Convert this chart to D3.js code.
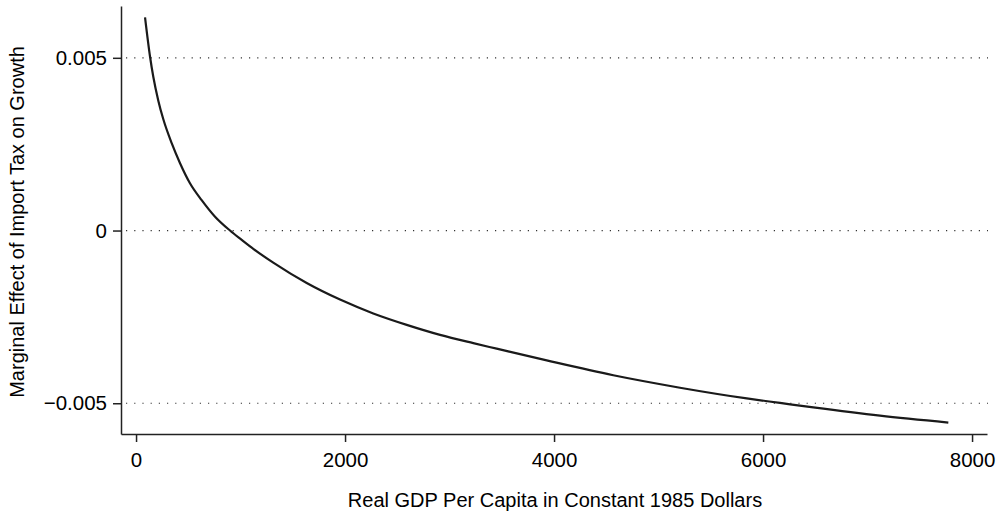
<!DOCTYPE html>
<html>
<head>
  <meta charset="utf-8">
  <script src="https://d3js.org/d3.v7.min.js"></script>
  <style>
    body { margin: 0; background: #fff; }
    text { font-family: "Liberation Sans", Arial, sans-serif; fill: #000; }
  </style>
</head>
<body>
<script>
// values
var gdp    = [86, 134, 165, 213, 261, 341, 421, 516, 628, 756, 899, 1011, 1122, 1313, 1633, 1952,
              2270, 2590, 2909, 3227, 3451, 3930, 4567, 5205, 5844, 6162, 6481, 7119, 7773];
var effect = [0.00617, 0.00503, 0.00445, 0.00376, 0.00322, 0.00253, 0.00195, 0.00137, 0.00088, 0.00040,
              0, -0.00027, -0.00053, -0.00093, -0.00152, -0.00200, -0.00240, -0.00273, -0.00302, -0.00326,
              -0.00342, -0.00376, -0.00419, -0.00455, -0.00486, -0.00499, -0.00512, -0.00536, -0.00556];
var xTicks = [0, 2000, 4000, 6000, 8000];
var yTicks = [-0.005, 0, 0.005];
var yTickLabels = ["\u22120.005", "0", "0.005"];

var width = 1004, height = 518;

var svg = d3.select("body").append("svg")
    .attr("width", width)
    .attr("height", height);

var x = d3.scaleLinear().domain([-144, 8143]).range([121, 987]);
var y = d3.scaleLinear().domain([-0.00589, 0.0065]).range([434, 6]);

// dotted grid lines
svg.append("g").selectAll("line")
    .data(yTicks)
  .enter().append("line")
    .attr("x1", 126).attr("x2", 988)
    .attr("y1", function(d) { return y(d); })
    .attr("y2", function(d) { return y(d); })
    .attr("stroke", "#333")
    .attr("stroke-width", 1.2)
    .attr("stroke-dasharray", "1.2,7");

var xAxis = svg.append("g")
    .attr("transform", "translate(0," + y.range()[0] + ")")
    .call(d3.axisBottom(x).tickValues(xTicks).tickSize(8).tickSizeOuter(0).tickPadding(10).tickFormat(d3.format("d")));

var yAxis = svg.append("g")
    .attr("transform", "translate(" + x.range()[0] + ",0)")
    .call(d3.axisLeft(y).tickValues(yTicks).tickSize(8).tickSizeOuter(0).tickPadding(6)
      .tickFormat(function(d, i) { return yTickLabels[i]; }));

[xAxis, yAxis].forEach(function(a) {
  a.selectAll("path, line").attr("stroke", "#222").attr("stroke-width", 1.5);
  a.selectAll("text").style("font-size", "20.5px").style("font-family", "Liberation Sans, Arial, sans-serif").attr("fill", "#000");
});

var line = d3.line()
    .x(function(d, i) { return x(gdp[i]); })
    .y(function(d) { return y(d); })
    .curve(d3.curveMonotoneX);

svg.append("path")
    .datum(effect)
    .attr("d", line)
    .attr("fill", "none")
    .attr("stroke", "#1a1a1a")
    .attr("stroke-width", 2.2);

svg.append("text")
    .attr("x", 555).attr("y", 507)
    .attr("text-anchor", "middle")
    .style("font-size", "20px")
    .text("Real GDP Per Capita in Constant 1985 Dollars");

svg.append("text")
    .attr("transform", "translate(24,222) rotate(-90)")
    .attr("text-anchor", "middle")
    .style("font-size", "20px")
    .text("Marginal Effect of Import Tax on Growth");
</script>
</body>
</html>
